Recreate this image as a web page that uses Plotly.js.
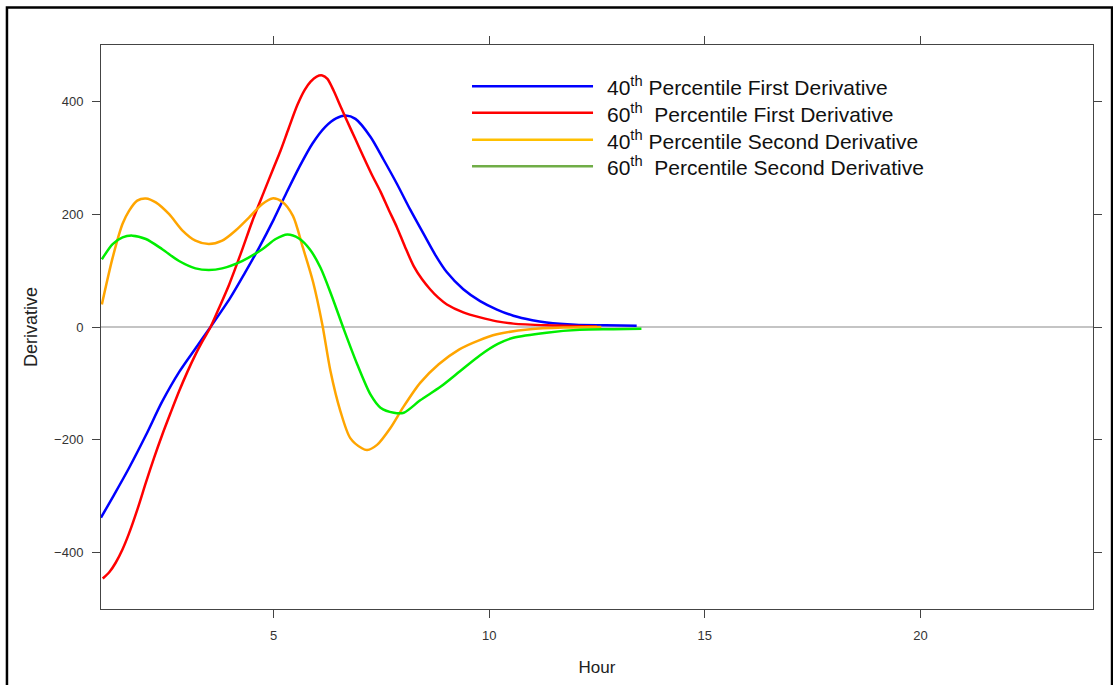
<!DOCTYPE html>
<html>
<head>
<meta charset="utf-8">
<script src="https://cdn.plot.ly/plotly-3.0.1.min.js"></script>
<style>
  html, body { margin: 0; padding: 0; background: #fff; }
  #chart { width: 1113px; height: 685px; }
</style>
</head>
<body>
<div id="chart"></div>
<script>
// ---- Data ----
const hour40First = [1.0, 1.3, 1.65, 2.04, 2.42, 2.81, 3.19, 3.54, 4.0, 4.33, 4.66, 5.0, 5.3, 5.6, 5.9, 6.2, 6.45, 6.67, 6.9, 7.25, 7.55, 7.86, 8.17, 8.48, 8.75, 9.02, 9.4, 9.79, 10.18, 10.56, 11.0, 11.33, 12.0, 12.7, 13.42];
const deriv40First = [-338, -298, -250, -192, -132, -80, -38, 0, 52, 95, 140, 190, 238, 284, 325, 355, 370, 375, 369, 337, 297, 254, 208, 165, 128, 97, 67, 46, 31, 20, 12, 8, 4, 3, 2];

const hour60First = [1.04, 1.2, 1.34, 1.5, 1.65, 1.85, 2.04, 2.23, 2.42, 2.62, 2.81, 3.0, 3.19, 3.37, 3.54, 3.75, 3.97, 4.24, 4.51, 4.78, 5.0, 5.16, 5.35, 5.55, 5.72, 5.86, 6.0, 6.13, 6.25, 6.4, 6.55, 6.7, 6.9, 7.09, 7.28, 7.48, 7.67, 7.86, 8.05, 8.25, 8.44, 8.63, 8.82, 9.02, 9.4, 9.79, 10.18, 10.56, 11.33, 12.5];
const deriv60First = [-446, -434, -418, -394, -366, -322, -276, -232, -191, -151, -114, -80, -49, -23, 0, 36, 75, 130, 188, 240, 282, 312, 352, 393, 420, 435, 444, 446, 440, 418, 392, 366, 333, 301, 270, 240, 208, 177, 142, 108, 85, 67, 52, 40, 26, 17, 10, 6, 3, 1];

const hour40Second = [1.02, 1.27, 1.5, 1.65, 1.84, 2.04, 2.27, 2.58, 2.89, 3.19, 3.5, 3.81, 4.12, 4.43, 4.74, 4.97, 5.2, 5.45, 5.68, 5.92, 6.13, 6.32, 6.55, 6.78, 7.05, 7.17, 7.4, 7.71, 8.0, 8.4, 8.83, 9.3, 9.75, 10.18, 10.95, 11.72, 12.6];
const deriv40Second = [40, 123, 183, 206, 224, 228, 221, 200, 171, 153, 147, 153, 171, 194, 218, 228, 222, 197, 141, 79, 5, -78, -149, -197, -215, -218, -209, -179, -143, -99, -66, -40, -24, -13, -4, -1, 0];

const hour60Second = [1.02, 1.27, 1.5, 1.73, 2.04, 2.42, 2.81, 3.19, 3.5, 3.81, 4.27, 4.74, 5.05, 5.32, 5.59, 5.84, 6.09, 6.35, 6.63, 6.94, 7.25, 7.48, 7.79, 8.02, 8.4, 8.87, 9.33, 9.79, 10.2, 10.56, 11.33, 12.1, 12.88, 13.53];
const deriv60Second = [120, 147, 159, 162, 156, 138, 117, 104, 101, 104, 117, 138, 156, 164, 157, 138, 105, 55, -4, -66, -120, -143, -152, -152, -130, -106, -78, -50, -30, -19, -10, -5, -4, -3];

const seriesNames = [
  "40<sup>th</sup> Percentile First Derivative",
  "60<sup>th</sup>\u00a0 Percentile First Derivative",
  "40<sup>th</sup> Percentile Second Derivative",
  "60<sup>th</sup>\u00a0 Percentile Second Derivative"
];
const xTickVals = [5, 10, 15, 20];
const yTickVals = [-400, -200, 0, 200, 400];

// ---- Styles ----
const traceColors = ["#0000ff", "#ff0000", "#ffa500", "#00ee00"];
const legendColors = ["#0000ff", "#ff0000", "#ffc000", "#70ad47"];
const FONT = "Liberation Sans, Arial, sans-serif";

const xs = [hour40First, hour60First, hour40Second, hour60Second];
const ys = [deriv40First, deriv60First, deriv40Second, deriv60Second];

const traces = xs.map((x, i) => ({
  type: "scatter",
  mode: "lines",
  x: x,
  y: ys[i],
  name: seriesNames[i],
  line: { color: traceColors[i], width: 2.5, shape: "spline", smoothing: 0.8 },
  showlegend: false,
  hoverinfo: "skip"
}));

// Custom legend (lines + labels), placed in paper coordinates
const legendRowsY = [0.927, 0.880, 0.832, 0.785];
const shapes = legendRowsY.map((y, i) => ({
  type: "line", xref: "paper", yref: "paper",
  x0: 0.374, x1: 0.496, y0: y, y1: y,
  line: { color: legendColors[i], width: 2.5 }
}));
// outer frame
shapes.push({
  type: "rect", xref: "paper", yref: "paper",
  x0: -0.0948, x1: 1.0192, y0: -0.16, y1: 1.0665,
  line: { color: "#000", width: 2.5 }, fillcolor: "rgba(0,0,0,0)"
});

const annotations = legendRowsY.map((y, i) => ({
  xref: "paper", yref: "paper", x: 0.508, y: y,
  xanchor: "left", yanchor: "middle",
  text: seriesNames[i], showarrow: false,
  font: { family: FONT, size: 21, color: "#111" }
}));

const axisCommon = {
  showline: true, linecolor: "#444", linewidth: 1,
  mirror: "ticks", ticks: "outside", ticklen: 8, tickwidth: 1, tickcolor: "#444",
  showgrid: false,
  tickfont: { family: FONT, size: 13, color: "#333" }
};

const layout = {
  width: 1113, height: 685,
  margin: { l: 101, r: 20, t: 45, b: 76 },
  paper_bgcolor: "#fff", plot_bgcolor: "#fff",
  font: { family: FONT },
  xaxis: Object.assign({}, axisCommon, {
    range: [1, 24], tickvals: xTickVals, zeroline: false,
    ticklabelstandoff: 6,
    title: { text: "Hour", font: { family: FONT, size: 17, color: "#222" }, standoff: 19 }
  }),
  yaxis: Object.assign({}, axisCommon, {
    range: [-500, 500], tickvals: yTickVals,
    zeroline: true, zerolinecolor: "#c4c4c4", zerolinewidth: 2.5,
    ticklabelstandoff: 6,
    title: { text: "Derivative", font: { family: FONT, size: 18, color: "#222" }, standoff: 11 }
  }),
  shapes: shapes,
  annotations: annotations
};

Plotly.newPlot("chart", traces, layout, { staticPlot: true, displayModeBar: false });
</script>
</body>
</html>
